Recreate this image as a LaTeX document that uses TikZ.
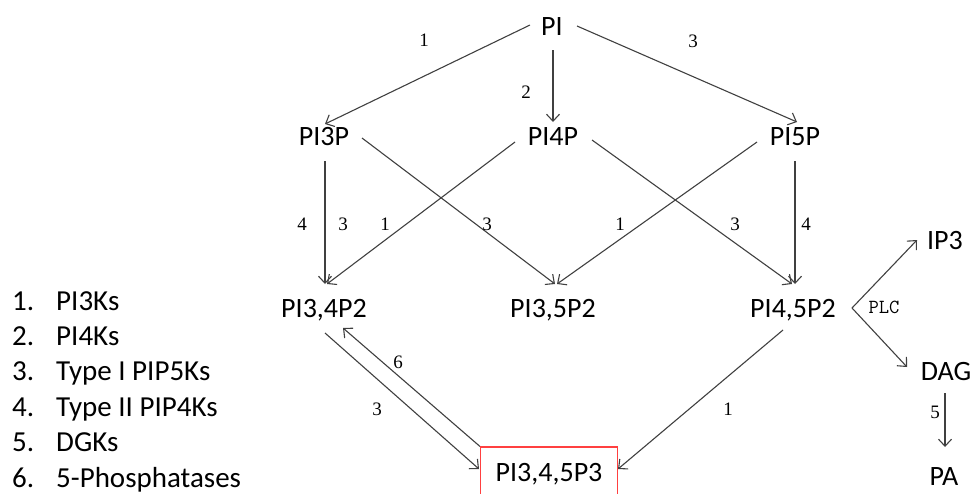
\documentclass[tikz,border=0pt]{standalone}
\usepackage{fontspec}
\setmainfont{Carlito}
\newfontfamily\labelfont{Liberation Serif}
\usetikzlibrary{arrows.meta,calc}
\definecolor{linegray}{HTML}{404040}
\definecolor{boxred}{HTML}{FF4040}
\begin{document}
\begin{tikzpicture}[x=1pt,y=-1pt,
  lipid/.style={inner sep=0pt,text height=18pt,text depth=0pt,font=\fontsize{28}{30}\selectfont},
  enz/.style={inner sep=0pt,font=\labelfont\fontsize{19}{20}\selectfont},
  legend/.style={inner sep=0pt,anchor=west,text height=18pt,text depth=0pt,font=\fontsize{29}{31}\selectfont},
  arr/.style={draw=linegray,line width=1.1pt,-{Straight Barb[length=7pt,width=13pt,line width=1.1pt]}}]
\useasboundingbox (0,0) rectangle (973,493);
\clip (0,0) rectangle (973,493);

% metabolites
\node[lipid] (PI)   at (552,26)  {PI};
\node[lipid] (PI3P) at (324,136) {PI3P};
\node[lipid] (PI4P) at (553,136) {PI4P};
\node[lipid] (PI5P) at (795,136) {PI5P};
\node[lipid] (PI34) at (324,308) {PI3,4P2};
\node[lipid] (PI35) at (553,308) {PI3,5P2};
\node[lipid] (PI45) at (793,308) {PI4,5P2};
\node[lipid] (IP3)  at (945,240) {IP3};
\node[lipid] (DAG)  at (946,371) {DAG};
\node[lipid] (PA)   at (944,476) {PA};
\node[lipid,draw=boxred,line width=1.2pt,minimum width=137pt,minimum height=50pt] (P3) at (549,472) {PI3,4,5P3};

% reactions from PI
\draw[arr] ($(PI)+(-22,-1)$) -- ($(PI3P)+(1,-12)$);
\draw[arr] ($(PI)+(1,24)$) -- ($(PI4P)+(0,-14)$);
\draw[arr] ($(PI)+(25,0)$) -- ($(PI5P)+(2,-14)$);
\node[enz] (e1) at (424,40) {1};
\node[enz] (e2) at (526,92) {2};
\node[enz] (e3) at (693,41) {3};

% monophosphates to bisphosphates
\draw[arr] ($(PI3P)+(1,25)$) -- ($(PI34)+(1,-24)$);
\draw[arr] ($(PI4P)+(-38,6)$) -- ($(PI34)+(3,-24)$);
\draw[arr] ($(PI3P)+(38,2)$) -- ($(PI35)+(2,-24)$);
\draw[arr] ($(PI5P)+(-38,6)$) -- ($(PI35)+(4,-24)$);
\draw[arr] ($(PI4P)+(39,4)$) -- ($(PI45)+(-1,-24)$);
\draw[arr] ($(PI5P)+(0,25)$) -- ($(PI45)+(2,-24)$);
\node[enz] (e4a) at (302,224) {4};
\node[enz] (e3a) at (343,224) {3};
\node[enz] (e1a) at (385,224) {1};
\node[enz] (e3b) at (487,224) {3};
\node[enz] (e1b) at (620,224) {1};
\node[enz] (e3c) at (735,224) {3};
\node[enz] (e4b) at (806,224) {4};

% PI3,4,5P3 synthesis and turnover
\draw[arr] ($(PI34)+(1,25)$) -- ($(P3)+(-70,-3)$);
\draw[arr] (P3.north west) -- ($(PI34)+(19,20)$);
\draw[arr] ($(PI45)+(-10,22)$) -- ($(P3)+(69,-3)$);
\node[enz] (e6)  at (398,362) {6};
\node[enz] (e3d) at (377,409) {3};
\node[enz] (e1c) at (728,409) {1};

% PLC cleavage and DAG phosphorylation
\coordinate (plcv) at ($(PI45)+(59,0)$);
\draw[arr] (plcv) -- ($(IP3)+(-28,0)$);
\draw[arr] (plcv) -- ($(DAG)+(-39,-4)$);
\node[inner sep=0pt,font=\ttfamily\fontsize{20}{22}\selectfont] (plc) at (884,307) {PLC};
\draw[arr] ($(DAG)+(-1,22)$) -- ($(PA)+(1,-29)$);
\node[enz] (e5) at (935,412) {5};

% enzyme key
\foreach \i/\n/\t in {0/1/PI3Ks,1/2/PI4Ks,2/3/Type I PIP5Ks,3/4/Type II PIP4Ks,4/5/DGKs,5/6/5-Phosphatases}{
  \node[legend] (k\n) at (12,301+35.4*\i) {\n.};
  \node[legend] (t\n) at (56,301+35.4*\i) {\t};
}
\end{tikzpicture}
\end{document}
